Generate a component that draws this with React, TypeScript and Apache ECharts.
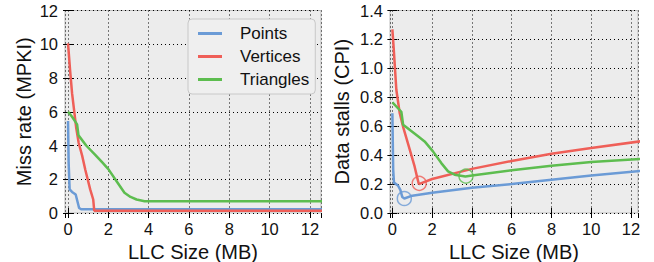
import React, { useEffect, useRef } from "react";
import * as echarts from "echarts";

// ---- Left panel: Miss rate (MPKI) vs LLC size (MB)
const missPointsX = [0, 0.03, 0.08, 0.2, 0.38, 0.55, 0.65, 12.6];
const missPointsY = [5.45, 3.0, 1.4, 1.25, 1.1, 0.3, 0.22, 0.22];
const missVertsX = [0, 0.1, 0.2, 0.4, 0.53, 0.7, 0.86, 1.1, 1.25, 1.3, 12.6];
const missVertsY = [10.05, 8.5, 7.1, 5.1, 4.15, 3.4, 2.55, 1.4, 0.8, 0.14, 0.14];
const missTriX = [0, 0.2, 0.45, 0.52, 0.9, 1.35, 1.7, 2.0, 2.4, 2.8, 3.1, 3.4, 3.8, 12.6];
const missTriY = [6.0, 5.7, 5.25, 4.6, 4.0, 3.45, 3.0, 2.6, 1.9, 1.2, 0.95, 0.8, 0.7, 0.7];

// ---- Right panel: Data stalls (CPI) vs LLC size (MB)
const cpiPointsX = [0, 0.04, 0.08, 0.28, 0.4, 0.5, 0.6, 1, 2, 4, 6, 8, 10, 12.6];
const cpiPointsY = [0.69, 0.3, 0.21, 0.19, 0.16, 0.11, 0.1, 0.12, 0.14, 0.175, 0.2, 0.23, 0.26, 0.292];
const cpiVertsX = [0, 0.07, 0.2, 0.37, 0.55, 0.87, 1.12, 1.24, 1.33, 2, 4, 6, 8, 10, 12.6];
const cpiVertsY = [1.27, 1.13, 0.85, 0.69, 0.59, 0.44, 0.32, 0.25, 0.2, 0.235, 0.305, 0.36, 0.41, 0.45, 0.498];
const cpiTriX = [0, 0.45, 0.54, 1.29, 1.62, 2.04, 2.46, 2.8, 3.13, 3.67, 4, 6, 8, 10, 12.6];
const cpiTriY = [0.765, 0.7, 0.61, 0.53, 0.495, 0.426, 0.345, 0.288, 0.265, 0.253, 0.26, 0.295, 0.327, 0.352, 0.375];

// minima markers (x, y) for Points, Vertices, Triangles
const minX = [0.6, 1.35, 3.7];
const minY = [0.1, 0.205, 0.255];

const seriesNames = ["Points", "Vertices", "Triangles"];
const colors = ["#6b9bd6", "#ef5f58", "#5dbd4f"];

const zip = (xs: number[], ys: number[]) => xs.map((x, i) => [x, ys[i]]);

const FONT = "Liberation Sans";

export default function App() {
  const ref = useRef<HTMLDivElement>(null);
  useEffect(() => {
    if (!ref.current) return;
    const chart = echarts.init(ref.current, undefined, { renderer: "svg" });

    const grids = [
      { left: 65, top: 10.5, width: 256, height: 202.5 },
      { left: 390, top: 10.5, width: 248, height: 202.5 },
    ].map((g) => ({
      ...g,
      show: true,
      backgroundColor: "#ececec",
      borderColor: "#bdbdbd",
      borderWidth: 1,
      containLabel: false,
      outerBoundsMode: "none",
    }));

    const tickStyle = { show: true, inside: true, length: 5, lineStyle: { color: "#000", width: 1 } };
    const labelStyle = { color: "#111", fontSize: 16.5, fontFamily: FONT };
    const nameStyle = { color: "#111", fontSize: 20, fontFamily: FONT };

    const xRanges = [
      [-0.15, 12.55],
      [-0.12, 12.35],
    ];
    const xAxis: any[] = [];
    xRanges.forEach((r, gi) => {
      xAxis.push({
        type: "value",
        gridIndex: gi,
        position: "bottom",
        min: r[0],
        max: r[1],
        splitNumber: 6,
        axisLine: { show: false },
        axisTick: tickStyle,
        axisLabel: { ...labelStyle, margin: 7, showMinLabel: false, showMaxLabel: false },
        splitLine: { show: true, lineStyle: { color: "#000", type: [1, 3], width: 1 } },
        name: "LLC Size (MB)",
        nameLocation: "middle",
        nameGap: 25,
        nameTextStyle: nameStyle,
      });
      xAxis.push({
        type: "value",
        gridIndex: gi,
        position: "top",
        min: r[0],
        max: r[1],
        splitNumber: 6,
        axisLine: { show: false },
        axisTick: tickStyle,
        axisLabel: { show: false },
        splitLine: { show: false },
      });
    });

    const yDefs = [
      { max: 12, interval: 2, name: "Miss rate (MPKI)", gap: 31, fmt: (v: number) => String(v) },
      { max: 1.4, interval: 0.2, name: "Data stalls (CPI)", gap: 38, fmt: (v: number) => v.toFixed(1) },
    ];
    const yAxis: any[] = [];
    yDefs.forEach((d, gi) => {
      yAxis.push({
        type: "value",
        gridIndex: gi,
        position: "left",
        min: 0,
        max: d.max,
        interval: d.interval,
        axisLine: { show: false },
        axisTick: tickStyle,
        axisLabel: { ...labelStyle, margin: 7, formatter: d.fmt },
        splitLine: { show: true, lineStyle: { color: "#000", type: [1, 3], width: 1 } },
        name: d.name,
        nameLocation: "middle",
        nameGap: d.gap,
        nameTextStyle: nameStyle,
      });
      yAxis.push({
        type: "value",
        gridIndex: gi,
        position: "right",
        min: 0,
        max: d.max,
        interval: d.interval,
        axisLine: { show: false },
        axisTick: tickStyle,
        axisLabel: { show: false },
        splitLine: { show: false },
      });
    });

    const lineSeries = (name: string, color: string, data: number[][], gi: number) => ({
      type: "line",
      name,
      xAxisIndex: gi * 2,
      yAxisIndex: gi * 2,
      data,
      symbol: "none",
      clip: true,
      lineStyle: { color, width: 2.5 },
      itemStyle: { color },
    });

    const leftData = [zip(missPointsX, missPointsY), zip(missVertsX, missVertsY), zip(missTriX, missTriY)];
    const rightData = [zip(cpiPointsX, cpiPointsY), zip(cpiVertsX, cpiVertsY), zip(cpiTriX, cpiTriY)];

    const series: any[] = [];
    seriesNames.forEach((n, i) => series.push(lineSeries(n, colors[i], leftData[i], 0)));
    seriesNames.forEach((n, i) => series.push(lineSeries(n, colors[i], rightData[i], 1)));
    seriesNames.forEach((n, i) =>
      series.push({
        type: "scatter",
        name: n + " min",
        xAxisIndex: 2,
        yAxisIndex: 2,
        data: [[minX[i], minY[i]]],
        symbol: "circle",
        symbolSize: 14,
        z: 5,
        itemStyle: { color: "rgba(0,0,0,0)", borderColor: colors[i], borderWidth: 1.5 },
      })
    );

    chart.setOption({
      animation: false,
      backgroundColor: "#ffffff",
      textStyle: { fontFamily: FONT },
      grid: grids,
      xAxis,
      yAxis,
      legend: {
        data: seriesNames.map((n) => ({ name: n, icon: "rect" })),
        left: 188,
        top: 19,
        orient: "vertical",
        itemWidth: 24,
        itemHeight: 3,
        itemGap: 4,
        padding: [5, 6, 5, 10],
        backgroundColor: "#efefef",
        borderColor: "#c8c8c8",
        borderWidth: 1,
        borderRadius: 4,
        textStyle: { color: "#111", fontSize: 17, fontFamily: FONT, padding: [0, 0, 0, 13], lineHeight: 19 },
      },
      series,
    });
    return () => chart.dispose();
  }, []);

  return <div ref={ref} style={{ width: 654, height: 262, position: "absolute", left: 0, top: 0 }} />;
}
